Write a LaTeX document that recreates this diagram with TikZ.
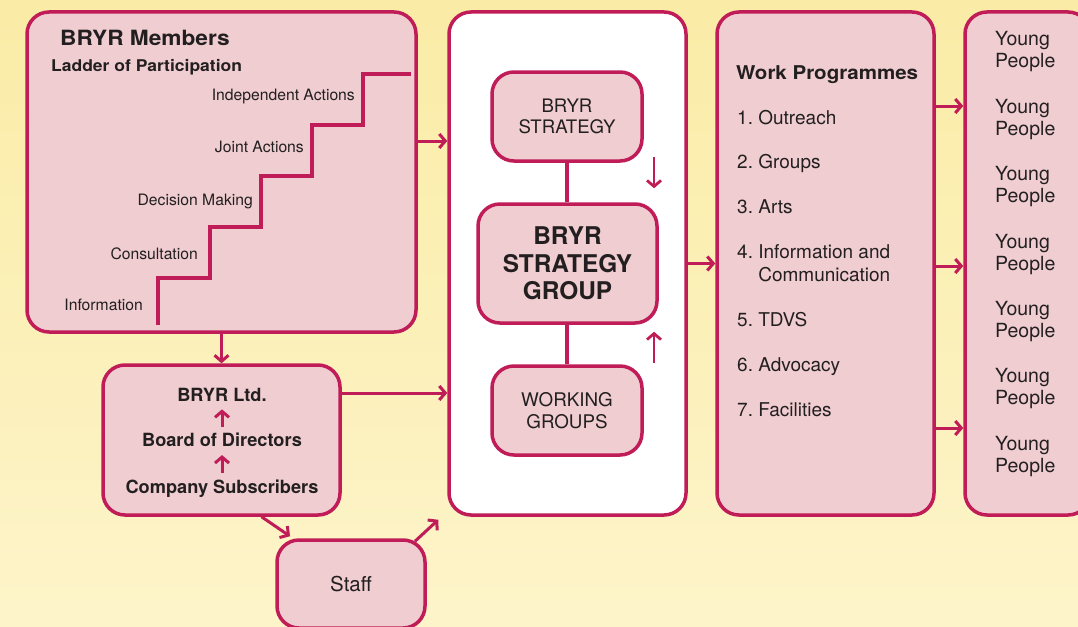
\documentclass[tikz,border=0pt]{standalone}
\usepackage{fontspec}
\setmainfont{TeX Gyre Heros}
\newfontfamily\heavyfont[FakeStretch=1.08]{TeX Gyre Heros}
\usetikzlibrary{arrows.meta}
\definecolor{bryr-red}{RGB}{192,28,88}
\definecolor{bryr-pink}{RGB}{239,205,208}
\definecolor{bryr-text}{RGB}{35,31,32}
\definecolor{sand-top}{RGB}{250,236,166}
\definecolor{sand-bottom}{RGB}{253,244,202}
\tikzstyle{box}=[draw=bryr-red,fill=bryr-pink,line width=3.5pt,rounded corners=22pt,inner sep=0pt,text=bryr-text,align=center]
\tikzstyle{flow}=[draw=bryr-red,line width=3pt,-{Straight Barb[length=6pt,width=14pt]}]
\tikzstyle{smallflow}=[draw=bryr-red,line width=2.8pt,-{Straight Barb[length=6pt,width=14pt]}]
\tikzstyle{item}=[anchor=base west,inner sep=0pt,text=bryr-text,font=\fs{19}{23}]
\newcommand{\fs}[2]{\fontsize{#1}{#2}\selectfont}
\newcommand{\rung}[3]{% name, base east point, text
  \node[anchor=base east,inner sep=0pt,text=bryr-text,font=\fs{15.7}{18}] (#1) at (#2) {#3};
}
\begin{document}
\begin{tikzpicture}[x=1pt,y=-1pt]
	\useasboundingbox (0,0) rectangle (1078,626);
	\clip (0,0) rectangle (1078,626);
	\fill[top color=sand-top,bottom color=sand-bottom] (0,0) rectangle (1078,626);
	% left column
	\node[box,minimum width=389pt,minimum height=320pt] (members) at (221.5,172) {};
	\node[box,minimum width=237pt,minimum height=150pt] (ltd) at (221.5,440) {};
	\node[box,minimum width=148pt,minimum height=88pt,font=\fs{20.5}{24}] (staff) at (351,584) {Staff};
	\node[anchor=base west,inner sep=0pt,text=bryr-text,font=\heavyfont\bfseries\fs{21}{24}] (membersTitle) at (60,46) {BRYR Members};
	\node[anchor=base west,inner sep=0pt,text=bryr-text,font=\heavyfont\bfseries\fs{16.2}{19}] (ladderTitle) at (51,71) {Ladder of Participation};
	\draw[draw=bryr-red,line width=3.5pt] (158,325) |- (210,278) |- (261,227) |- (312,176) |- (363,125) |- (411,74);
	\rung{information}{143,310.7}{Information}
	\rung{consultation}{198,259}{Consultation}
	\rung{decision}{253,205}{Decision Making}
	\rung{joint}{304,152.7}{Joint Actions}
	\rung{independent}{355,100}{Independent Actions}
	\node[anchor=base,inner sep=0pt,text=bryr-text,font=\bfseries\fs{18.2}{20}] (ltdName) at (222,401) {BRYR Ltd.};
	\node[anchor=base,inner sep=0pt,text=bryr-text,font=\bfseries\fs{18.2}{20}] (board) at (222,446.7) {Board of Directors};
	\node[anchor=base,inner sep=0pt,text=bryr-text,font=\bfseries\fs{18.2}{20}] (subscribers) at (222,493) {Company Subscribers};
	\draw[flow,shorten >=8pt,shorten <=6pt] (board.north) -- (ltdName.south);
	\draw[flow,shorten >=8pt,shorten <=6pt] (subscribers.north) -- (board.south);
	% strategy group
	\node[box,fill=white,minimum width=237pt,minimum height=503pt] (central) at (567.5,263.5) {};
	\node[box,minimum width=150pt,minimum height=89pt,font=\fs{18.6}{21.6}] (strategy) at (567,116.5) {BRYR\\STRATEGY};
	\node[box,minimum width=179pt,minimum height=119pt,font=\bfseries\fs{24.4}{27.4}] (group) at (567.5,263.5) {BRYR\\STRATEGY\\GROUP};
	\node[box,minimum width=150pt,minimum height=89pt,font=\fs{18.8}{22.7}] (working) at (567,410.5) {WORKING\\GROUPS};
	\draw[draw=bryr-red,line width=3.5pt] (strategy.south) -- (strategy.south |- group.north);
	\draw[draw=bryr-red,line width=3.5pt] (working.north) -- (working.north |- group.south);
	\draw[smallflow] ([xshift=87pt,yshift=6pt]strategy.south) -- ([xshift=86.5pt,yshift=14pt]group.north);
	\draw[smallflow] ([xshift=87pt,yshift=1pt]working.north) -- ([xshift=86.5pt,yshift=-7pt]group.south);
	% work programmes and young people
	\node[box,minimum width=217pt,minimum height=503pt] (work) at (825.5,263.5) {};
	\node[box,minimum width=125pt,minimum height=503pt] (young) at (1027.5,263.5) {};
	\node[anchor=base west,inner sep=0pt,text=bryr-text,font=\heavyfont\bfseries\fs{19}{22}] (workTitle) at (736,79) {Work Programmes};
	\foreach \y/\t in {124/1.~Outreach,168/2.~Groups,213/3.~Arts,326/5.~TDVS,371/6.~Advocacy,416/7.~Facilities}
		\node[item] (wp\y) at (737,\y) {\t};
	\node[item,anchor=north west,align=left] (wpInfo) at (737,244) {4.~Information and\\\phantom{4.~}Communication};
	\foreach \i in {0,...,6}
		\node[anchor=west,align=left,inner sep=0pt,text=bryr-text,font=\fs{19.5}{22}] (young\i) at (995,{52+67.4*\i}) {Young\\People};
	% connectors
	\draw[flow] ([yshift=31pt]members.east) -- ([yshift=31pt]members.east -| central.west);
	\draw[flow] (members.south) -- (ltd.north);
	\draw[flow] ([yshift=47pt]ltd.east) -- ([yshift=47pt]ltd.east -| central.west);
	\draw[flow] ([xshift=40pt]ltd.south) -- ([xshift=-61pt,yshift=2pt]staff.north);
	\draw[flow] ([xshift=64pt,yshift=-3pt]staff.north) -- ([xshift=-9pt,yshift=-3pt]central.south west);
	\draw[flow] (central.east) -- (work.west);
	\foreach \s in {157.5,-2.5,-164.5}
		\draw[flow] ([yshift=\s pt]work.east) -- ([yshift=\s pt]work.east -| young.west);
\end{tikzpicture}
\end{document}
